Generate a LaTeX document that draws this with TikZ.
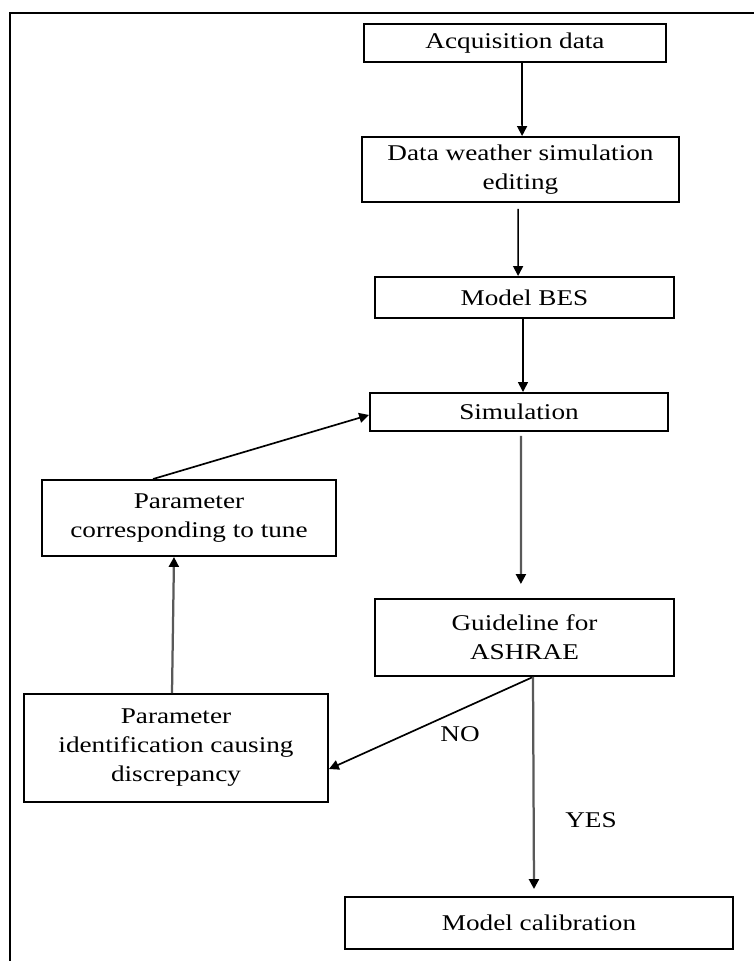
\documentclass[tikz,border=0pt]{standalone}
\usepackage{fontspec}
\setmainfont[FakeStretch=1.21]{Liberation Serif}
\usetikzlibrary{arrows.meta}
\tikzset{
  box/.style={draw,line width=1.4pt,align=center,inner sep=0pt,font=\fontsize{16}{20.6}\selectfont},
  flow/.style={line width=1.2pt,-{Triangle[length=7pt,width=7pt]}},
  flowgray/.style={flow,line width=1.6pt,draw=black!65,-{Triangle[length=7pt,width=7pt,fill=black,color=black]}},
  lbl/.style={font=\fontsize{16}{20.6}\selectfont},
}
\begin{document}
\begin{tikzpicture}
  \useasboundingbox (0,0) rectangle (18.85,-24.025);
  \draw [line width=1.4pt] (0.25,-24.025)--(0.25,-0.325)--(18.85,-0.325);
  \node [box,minimum width=7.55cm,minimum height=0.95cm] (acq) at (12.875,-1.075) {Acquisition data};
  \node [box,minimum width=7.925cm,minimum height=1.625cm] (weather) at (13.0125,-4.2375) {Data weather simulation\\editing};
  \node [box,minimum width=7.475cm,minimum height=1.025cm] (bes) at (13.1125,-7.4375) {Model BES};
  \node [box,minimum width=7.45cm,minimum height=0.95cm] (sim) at (12.975,-10.3) {Simulation};
  \node [box,minimum width=7.475cm,minimum height=1.925cm] (guide) at (13.1125,-15.9375) {Guideline for\\ASHRAE};
  \node [box,minimum width=7.35cm,minimum height=1.9cm] (tune) at (4.725,-12.95) {Parameter\\corresponding to tune};
  \node [box,minimum width=7.6cm,minimum height=2.7cm] (ident) at (4.4,-18.7) {Parameter\\identification causing\\discrepancy};
  \node [box,minimum width=9.7cm,minimum height=1.3cm] (calib) at (13.475,-23.075) {Model calibration};
  \node [lbl] (no) at (11.5,-18.35) {NO};
  \node [lbl] (yes) at (14.775,-20.5) {YES};
  \draw [flow] ([xshift=0.175cm]acq.south)--([xshift=0.04cm]weather.north);
  \draw [flow] ([xshift=-0.06cm,yshift=-0.15cm]weather.south)--([xshift=-0.16cm]bes.north);
  \draw [flow] ([xshift=-0.04cm]bes.south)--([xshift=0.1cm]sim.north);
  \draw [flowgray] ([xshift=0.05cm,yshift=-0.1cm]sim.south)--([xshift=-0.09cm,yshift=0.35cm]guide.north);
  \draw [flow] ([xshift=-0.9cm]tune.north)--([yshift=-0.075cm]sim.west);
  \draw [flowgray] ([xshift=-0.1cm]ident.north)--([xshift=-0.375cm]tune.south);
  \draw [flow] ([xshift=0.2125cm]guide.south)--([yshift=-0.525cm]ident.east);
  \draw [flowgray] ([xshift=0.2125cm]guide.south)--([xshift=-0.125cm,yshift=0.175cm]calib.north);
\end{tikzpicture}
\end{document}
